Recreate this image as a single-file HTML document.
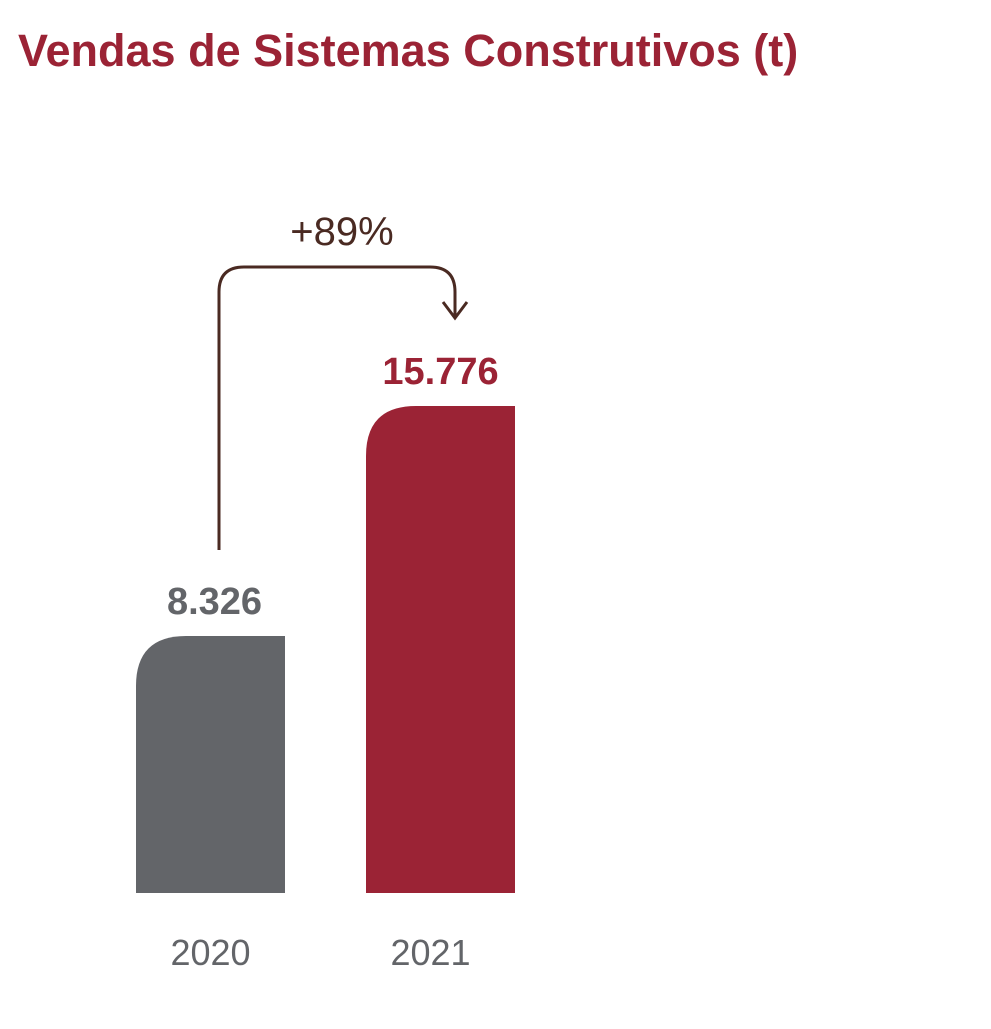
<!DOCTYPE html>
<html><head><meta charset="utf-8"><style>
body{margin:0;background:#fff;width:991px;height:1024px;overflow:hidden;font-family:"Liberation Sans",sans-serif}
</style></head><body>
<svg width="991" height="1024" viewBox="0 0 991 1024">
<text x="18" y="66" font-size="45" font-weight="bold" fill="#9b2335">Vendas de Sistemas Construtivos (t)</text>
<g id="bars"></g>
<path d="M219 550 V292 Q219 267 244 267 H430 Q455 267 455 292 V316" fill="none" stroke="#4a2a22" stroke-width="3"/>
<path d="M443 302 L455 318 L467 302" fill="none" stroke="#4a2a22" stroke-width="3"/>
<text x="342" y="245" font-size="40" fill="#4a2a22" text-anchor="middle">+89%</text>
</svg>
<script>
const categories=["2020","2021"];
const values=[8326,15776];
const valueLabels=["8.326","15.776"];
const colors=["#636569","#9b2335"];
const base=893, top0=406, maxV=15776;
const y=v=>base-(v/maxV)*(base-top0);
const x=i=>136+i*230;
const w=149,r=50;
const g=document.getElementById('bars');
const ns="http://www.w3.org/2000/svg";
categories.forEach((c,i)=>{
 const X=x(i),Y=y(values[i]);
 const p=document.createElementNS(ns,'path');
 p.setAttribute('d',`M${X} ${base} V${Y+r} Q${X} ${Y} ${X+r} ${Y} H${X+w} V${base} Z`);
 p.setAttribute('fill',colors[i]);
 
 
 g.appendChild(p);
 const t=document.createElementNS(ns,'text');
 t.setAttribute('x',X+w/2-(i?0:-4));t.setAttribute('y',Y-22);
 t.setAttribute('font-size','38');t.setAttribute('font-weight','bold');
 t.setAttribute('fill',colors[i]);t.setAttribute('text-anchor','middle');
 t.textContent=valueLabels[i];
 
 
 g.appendChild(t);
 const l=document.createElementNS(ns,'text');
 l.setAttribute('x',X+w/2-(i?10:0));l.setAttribute('y',965);
 l.setAttribute('font-size','36');l.setAttribute('fill','#636569');l.setAttribute('text-anchor','middle');
 l.textContent=c;
 
 
 g.appendChild(l);
});
</script>
</body></html>
